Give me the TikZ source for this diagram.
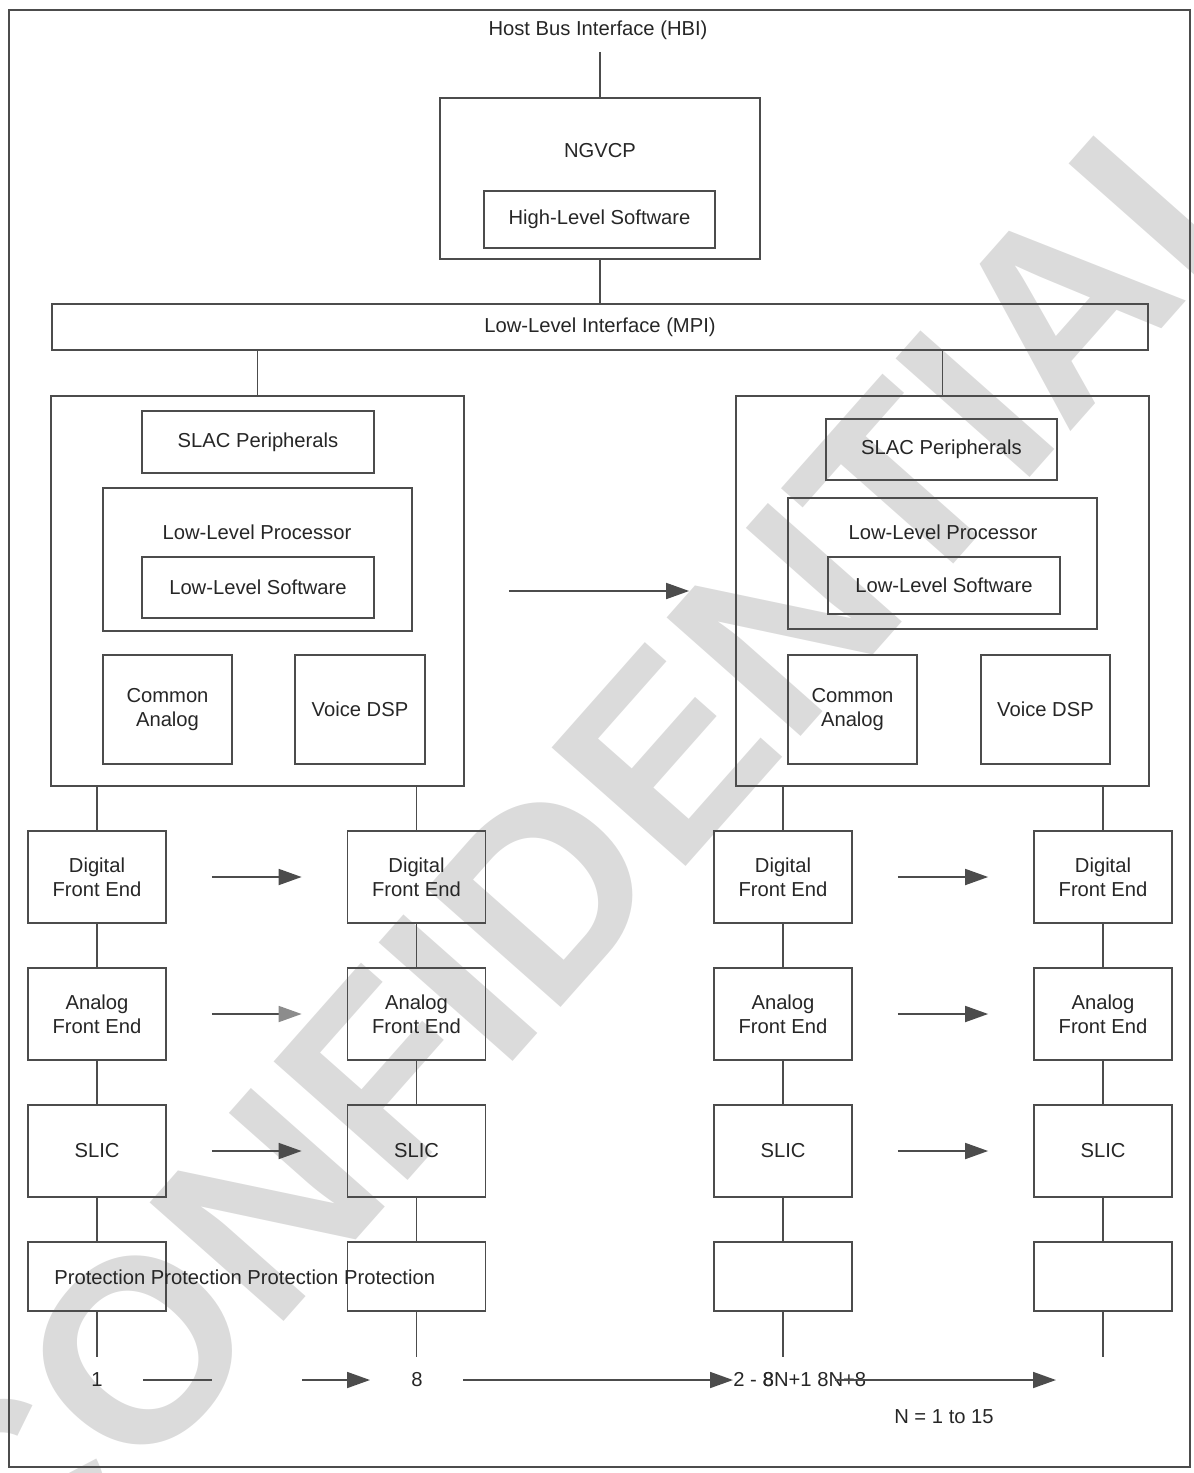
\documentclass[tikz,border=0pt]{standalone}
\usepackage{fontspec}
\setmainfont{Liberation Sans}
\usetikzlibrary{arrows.meta}
\begin{document}
\begin{tikzpicture}[x=0.02cm,y=-0.02cm,
  every node/.style={font=\fontsize{11.5}{13.8}\selectfont, text=black!85},
  bx/.style 2 args={draw=black!70, line width=1pt, minimum width=#1*0.02cm, minimum height=#2*0.02cm, inner sep=0pt, align=center},
  txt/.style={inner sep=0pt, align=center},
  ln/.style={draw=black!70, line width=1pt},
  arr/.style={ln, -{Triangle[length=0.46cm,width=0.32cm]}},
  grayarr/.style={ln, -{Triangle[length=0.46cm,width=0.32cm,color=black!45]}},
]
\useasboundingbox (0,0) rectangle (1193,1473);
% watermark
\begin{scope}
  \clip (0,0) rectangle (1193,1473);
  \node[rotate=48.5, inner sep=0pt, text=black!14, font=\fontsize{148}{148}\selectfont\bfseries] (wm) at (588,842) {CONFIDENTIAL};
\end{scope}

% frame
\node[bx={1181}{1457}] (frame) at (599.5,738.5) {};

% top
\node[txt] (hbi) at (598,30) {Host Bus Interface (HBI)};
\coordinate (hbiend) at (600,52);
\node[bx={320}{161}] (ngvcp) at (600,178.5) {};
\node[txt] (ngvcpt) at (600,151) {NGVCP};
\node[bx={231}{57}] (hls) at (599.5,219.5) {High-Level Software};
\node[bx={1096}{46}] (mpi) at (600,327) {Low-Level Interface (MPI)};
\draw[ln] (hbiend) -- (ngvcp.north);
\draw[ln] (ngvcp.south) -- (mpi.north);

% left block
\node[bx={413}{390}] (L) at (257.5,591) {};
\node[bx={232}{62}] (Lslac) at (258,442) {SLAC Peripherals};
\node[bx={309}{143}] (Lllp) at (257.5,559.5) {};
\node[txt] (Lllpt) at (257,532) {Low-Level Processor};
\node[bx={232}{61}] (Llls) at (258,587.5) {Low-Level Software};
\node[bx={129}{109}] (Lca) at (167.5,709.5) {Common\\Analog};
\node[bx={130}{109}] (Lvd) at (360,709.5) {Voice DSP};

% right block
\node[bx={413}{390}] (R) at (942.5,591) {};
\node[bx={231}{61}] (Rslac) at (941.5,449.5) {SLAC Peripherals};
\node[bx={309}{131}] (Rllp) at (942.5,563.5) {};
\node[txt] (Rllpt) at (943,532) {Low-Level Processor};
\node[bx={232}{57}] (Rlls) at (944,585.5) {Low-Level Software};
\node[bx={129}{109}] (Rca) at (852.5,709.5) {Common\\Analog};
\node[bx={129}{109}] (Rvd) at (1045.5,709.5) {Voice DSP};

\draw[ln] (mpi.south -| L.north) -- (L.north);
\draw[ln] (mpi.south -| R.north) -- (R.north);
\draw[arr] ([xshift=0.88cm]L.east) -- ([xshift=-0.92cm]R.west);

% columns
\foreach \c/\x in {1/97,2/416.5,3/783,4/1103} {
  \node[bx={138}{92}] (d\c) at (\x,877) {Digital\\Front End};
  \node[bx={138}{92}] (a\c) at (\x,1014) {Analog\\Front End};
  \node[bx={138}{92}] (s\c) at (\x,1151) {SLIC};
  \node[bx={138}{69}] (p\c) at (\x,1276.5) {};
  \coordinate (e\c) at (\x,1357);
  \draw[ln] (d\c.south) -- (a\c.north);
  \draw[ln] (a\c.south) -- (s\c.north);
  \draw[ln] (s\c.south) -- (p\c.north);
  \draw[ln] (p\c.south) -- (e\c);
}
\node[txt, anchor=west] (prot) at (54,1277) {Protection Protection Protection Protection};

\draw[ln] (L.south -| d1.north) -- (d1.north);
\draw[ln] (L.south -| d2.north) -- (d2.north);
\draw[ln] (R.south -| d3.north) -- (d3.north);
\draw[ln] (R.south -| d4.north) -- (d4.north);

% row arrows
\draw[arr] ([xshift=0.9cm]d1.east) -- ([xshift=-0.9cm]d2.west);
\draw[grayarr] ([xshift=0.9cm]a1.east) -- ([xshift=-0.9cm]a2.west);
\draw[arr] ([xshift=0.9cm]s1.east) -- ([xshift=-0.9cm]s2.west);
\draw[arr] ([xshift=0.9cm]d3.east) -- ([xshift=-0.9cm]d4.west);
\draw[arr] ([xshift=0.9cm]a3.east) -- ([xshift=-0.9cm]a4.west);
\draw[arr] ([xshift=0.9cm]s3.east) -- ([xshift=-0.9cm]s4.west);

% bottom labels
\node[txt] (n1) at (97,1380) {1};
\node[txt] (n8) at (417,1380) {8};
\coordinate (b1) at (143,1380);
\coordinate (b2) at (212,1380);
\coordinate (b3) at (302,1380);
\coordinate (b4) at (370,1380);
\coordinate (b5) at (463,1380);
\coordinate (b6) at (733,1380);
\coordinate (b7) at (835,1380);
\coordinate (b8) at (1056,1380);
\draw[ln] (b1) -- (b2);
\draw[arr] (b3) -- (b4);
\draw[arr] (b5) -- (b6);
\node[txt, anchor=west] (r1) at (733,1380) {2 - 8};
\node[txt, anchor=west] (r2) at (762.5,1380) {8N+1 8N+8};
\draw[arr] (b7) -- (b8);
\node[txt] (nrange) at (944,1417) {N = 1 to 15};
\end{tikzpicture}
\end{document}
